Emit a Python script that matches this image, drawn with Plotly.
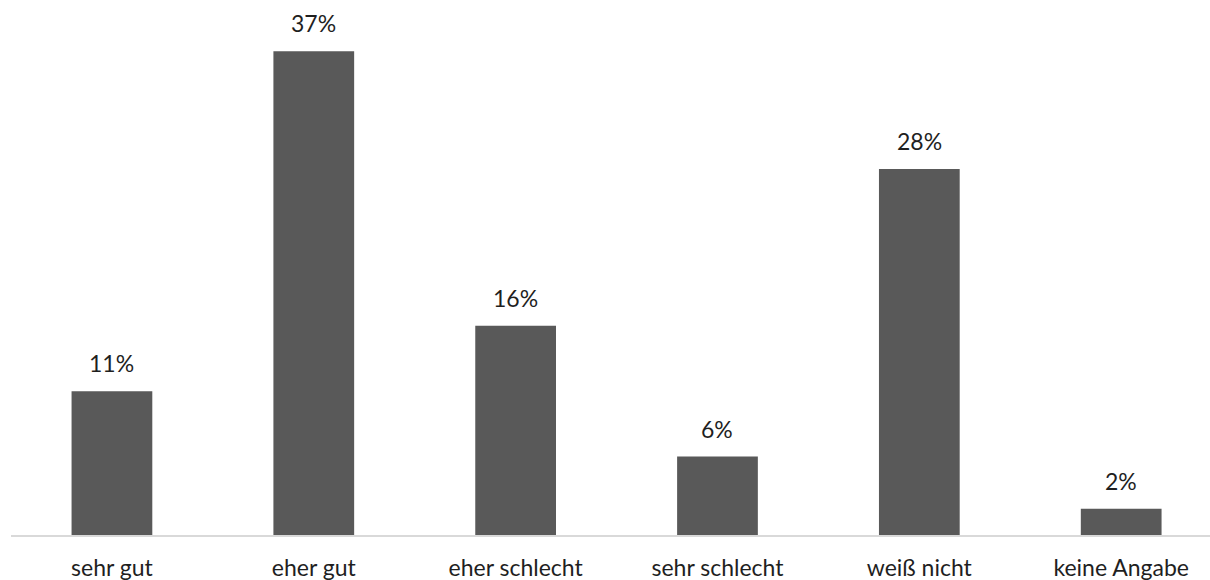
import plotly.graph_objects as go

categories = ["sehr gut", "eher gut", "eher schlecht", "sehr schlecht", "weiß nicht", "keine Angabe"]
values = [11, 37, 16, 6, 28, 2]
labels = ["11%", "37%", "16%", "6%", "28%", "2%"]

BAR_COLOR = "#595959"
TEXT_COLOR = "#1f1f1f"
FONT = "Lato, 'Open Sans', sans-serif"
FONT_SIZE = 23

fig = go.Figure(
    go.Bar(
        x=categories,
        y=values,
        width=0.4,
        marker=dict(color=BAR_COLOR, line=dict(width=0)),
        hoverinfo="skip",
    )
)

for cat, val, lab in zip(categories, values, labels):
    fig.add_annotation(
        x=cat, y=val, text=lab, showarrow=False,
        xanchor="center", yanchor="bottom", yshift=12,
        font=dict(family=FONT, size=FONT_SIZE, color=TEXT_COLOR),
    )

fig.update_layout(
    width=1210, height=580,
    margin=dict(l=11, r=0, t=12, b=45),
    paper_bgcolor="white", plot_bgcolor="white",
    showlegend=False,
    font=dict(family=FONT, size=FONT_SIZE, color=TEXT_COLOR),
    xaxis=dict(
        range=[-0.5, 5.44],
        showline=True, linecolor="#d9d9d9", linewidth=1.5,
        showgrid=False, zeroline=False, ticks="",
        ticklabelstandoff=12,
        tickfont=dict(family=FONT, size=FONT_SIZE, color=TEXT_COLOR),
    ),
    yaxis=dict(range=[0, 40], visible=False, showgrid=False, zeroline=False),
)

fig.write_html("out.html")
